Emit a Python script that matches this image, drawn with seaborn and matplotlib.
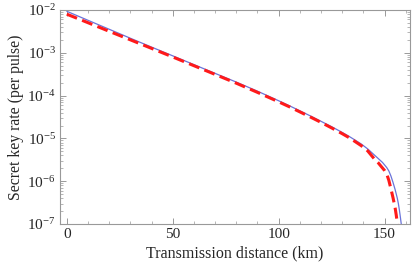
import numpy as np
import pandas as pd
import matplotlib
matplotlib.use("Agg")
import matplotlib.pyplot as plt
import seaborn as sns
from matplotlib.ticker import LogLocator, MultipleLocator, NullFormatter

# data (km, key rate per pulse)
dist_blue = [0, 10, 20, 30, 40, 50, 60, 70, 80, 90, 100, 105, 110, 115, 120,
             125, 130, 133, 136, 139, 142, 145, 147, 149, 150, 151, 152, 153,
             154, 155, 156, 156.5, 157, 157.5, 158, 158.3]
rate_blue = [9.33e-3, 5.75e-3, 3.55e-3, 2.19e-3, 1.36e-3, 8.5e-4, 5.3e-4,
             3.31e-4, 2.07e-4, 1.27e-4, 7.59e-5, 5.82e-5, 4.42e-5, 3.35e-5,
             2.51e-5, 1.88e-5, 1.38e-5, 1.135e-5, 9.2e-6, 7.4e-6, 5.7e-6,
             4.17e-6, 3.39e-6, 2.75e-6, 2.4e-6, 2.09e-6, 1.74e-6, 1.32e-6,
             9.3e-7, 6.3e-7, 4.0e-7, 3.0e-7, 2.1e-7, 1.38e-7, 8.9e-8, 6.3e-8]

dist_red = [0, 10, 20, 30, 40, 50, 60, 70, 80, 90, 100, 105, 110, 115, 120,
            125, 130, 133, 136, 139, 142, 145, 147, 149, 150, 151, 152, 153,
            154, 155, 155.5, 156, 156.3, 156.6]
rate_red = [8.0e-3, 5.05e-3, 3.18e-3, 2.01e-3, 1.27e-3, 8.0e-4, 5.0e-4,
            3.13e-4, 1.95e-4, 1.19e-4, 7.16e-5, 5.5e-5, 4.17e-5, 3.16e-5,
            2.37e-5, 1.76e-5, 1.29e-5, 1.06e-5, 8.5e-6, 6.76e-6, 5.13e-6,
            3.39e-6, 2.69e-6, 2.04e-6, 1.78e-6, 1.48e-6, 1.05e-6, 6.6e-7,
            4.07e-7, 2.34e-7, 1.62e-7, 1.05e-7, 7.9e-8, 5.0e-8]

df_blue = pd.DataFrame({"d": dist_blue, "r": rate_blue})
df_red = pd.DataFrame({"d": dist_red, "r": rate_red})

sns.set_style("ticks")
plt.rcParams['font.family'] = ['Liberation Serif', 'DejaVu Serif']
plt.rcParams['mathtext.fontset'] = 'stix'

fig = plt.figure(figsize=(4.15, 2.68), dpi=100)
ax = fig.add_axes([0.1446, 0.164, 0.8434, 0.7987])

sns.lineplot(data=df_blue, x="d", y="r", ax=ax, color="#6a73d9", lw=0.9)
sns.lineplot(data=df_red, x="d", y="r", ax=ax, color="#ff1a1a", lw=2.2,
             linestyle=(0, (3.6, 1.8)))

ax.set_yscale("log")
ax.set_xlim(-3.2, 162)
ax.set_ylim(1e-7, 1e-2)

ax.xaxis.set_major_locator(MultipleLocator(50))
ax.xaxis.set_minor_locator(MultipleLocator(10))
ax.yaxis.set_major_locator(LogLocator(base=10, numticks=10))
ax.yaxis.set_minor_locator(LogLocator(base=10, subs=np.arange(2, 10), numticks=20))
ax.yaxis.set_minor_formatter(NullFormatter())

for s in ax.spines.values():
    s.set_color("#999999")
    s.set_linewidth(0.8)
ax.tick_params(which="both", direction="in", top=True, right=True,
               color="#999999", labelsize=11, pad=3)
ax.tick_params(which="major", length=4, width=0.7)
ax.tick_params(which="minor", length=2, width=0.5)

ax.set_xlabel("Transmission distance (km)", fontsize=11.5, labelpad=3)
ax.set_ylabel("Secret key rate (per pulse)", fontsize=11.3, labelpad=2)

fig.savefig("out.png", dpi=100)
